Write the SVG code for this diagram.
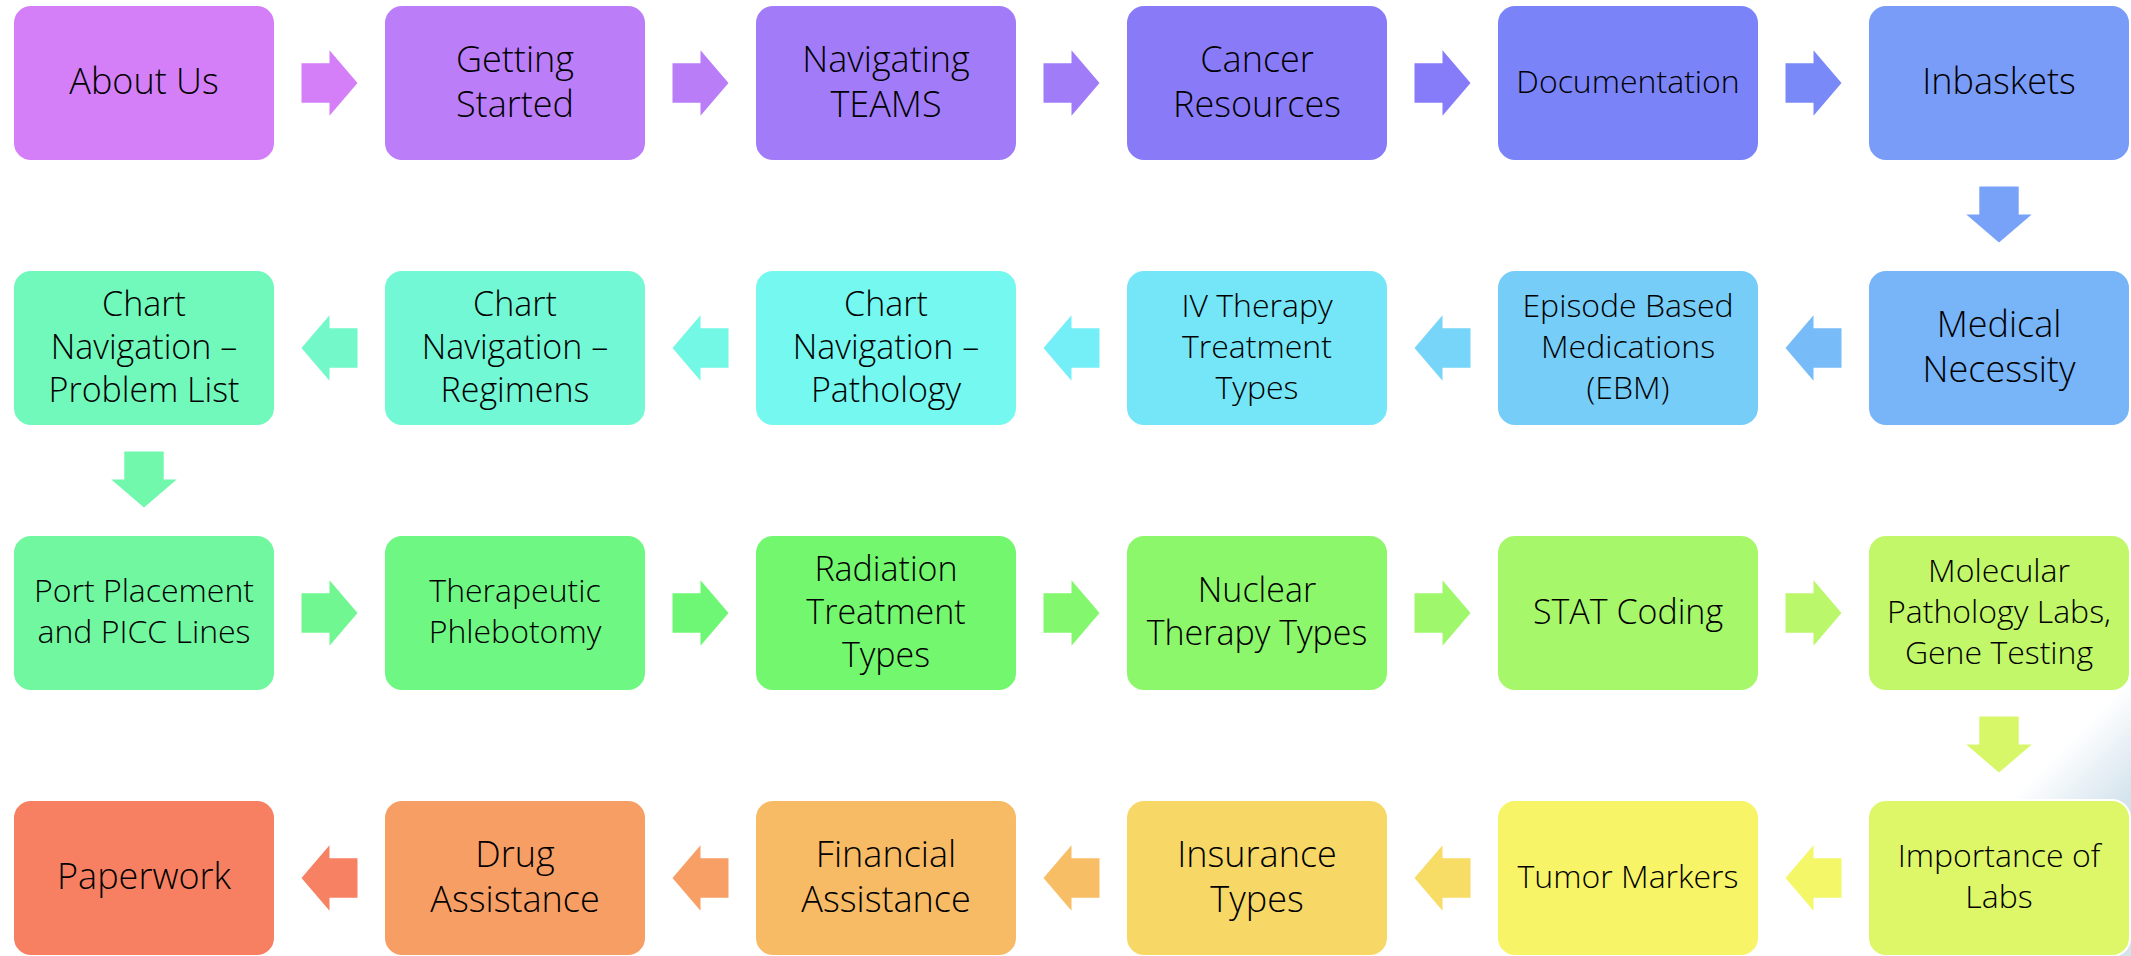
<svg xmlns="http://www.w3.org/2000/svg" width="2131" height="956" viewBox="0 0 2131 956">
  <defs>
    <!-- right-pointing block arrow centred on its head base -->
    <path id="arr" d="M-28,-19.7 H0 V-32.7 L28,0 L0,32.7 V19.7 H-28 Z"/>
    <linearGradient id="swoosh" gradientUnits="userSpaceOnUse" x1="2040" y1="770" x2="2098" y2="828">
      <stop offset="0" stop-color="#ffffff"/>
      <stop offset="0.5" stop-color="#e9f1f6"/>
      <stop offset="1" stop-color="#d4e4ed"/>
    </linearGradient>
    <style>
      .box { stroke: #ffffff; stroke-width: 2; }
      .lbl { font-family: "Open Sans", "Noto Sans", "DejaVu Sans", sans-serif; font-weight: 300; fill: #000000; text-anchor: middle; }
      .f36 { font-size: 36px; }
      .f34 { font-size: 34px; }
      .f32 { font-size: 32px; }
    </style>
  </defs>

  <rect x="0" y="0" width="2131" height="956" fill="#ffffff"/>
  <!-- soft background tint at lower right -->
  <rect x="1880" y="560" width="251" height="396" fill="url(#swoosh)"/>

  <!-- connectors -->
  <g id="connectors">
    <use href="#arr" transform="translate(329.5,83)" fill="hsl(282,90%,73.5%)"/>
    <use href="#arr" transform="translate(700.5,83)" fill="hsl(269.7,90%,73.2%)"/>
    <use href="#arr" transform="translate(1071.5,83)" fill="hsl(257.5,90%,73%)"/>
    <use href="#arr" transform="translate(1442.5,83)" fill="hsl(245.2,90%,72.7%)"/>
    <use href="#arr" transform="translate(1813.5,83)" fill="hsl(232.9,90%,72.5%)"/>
    <use href="#arr" transform="translate(1999,214.5) rotate(90)" fill="hsl(220.6,90%,72.2%)"/>
    <use href="#arr" transform="translate(1813.5,348) rotate(180)" fill="hsl(208.4,90%,71.9%)"/>
    <use href="#arr" transform="translate(1442.5,348) rotate(180)" fill="hsl(196.1,90%,71.7%)"/>
    <use href="#arr" transform="translate(1071.5,348) rotate(180)" fill="hsl(183.8,90%,71.4%)"/>
    <use href="#arr" transform="translate(700.5,348) rotate(180)" fill="hsl(171.5,90%,71.2%)"/>
    <use href="#arr" transform="translate(329.5,348) rotate(180)" fill="hsl(159.3,90%,70.9%)"/>
    <use href="#arr" transform="translate(144,479.5) rotate(90)" fill="hsl(147,90%,70.6%)"/>
    <use href="#arr" transform="translate(329.5,613)" fill="hsl(134.7,90%,70.4%)"/>
    <use href="#arr" transform="translate(700.5,613)" fill="hsl(122.5,90%,70.1%)"/>
    <use href="#arr" transform="translate(1071.5,613)" fill="hsl(110.2,90%,69.8%)"/>
    <use href="#arr" transform="translate(1442.5,613)" fill="hsl(97.9,90%,69.6%)"/>
    <use href="#arr" transform="translate(1813.5,613)" fill="hsl(85.6,90%,69.3%)"/>
    <use href="#arr" transform="translate(1999,744.5) rotate(90)" fill="hsl(73.4,90%,69.1%)"/>
    <use href="#arr" transform="translate(1813.5,878) rotate(180)" fill="hsl(61.1,90%,68.8%)"/>
    <use href="#arr" transform="translate(1442.5,878) rotate(180)" fill="hsl(48.8,90%,68.5%)"/>
    <use href="#arr" transform="translate(1071.5,878) rotate(180)" fill="hsl(36.5,90%,68.3%)"/>
    <use href="#arr" transform="translate(700.5,878) rotate(180)" fill="hsl(24.3,90%,68%)"/>
    <use href="#arr" transform="translate(329.5,878) rotate(180)" fill="hsl(12,90%,67.8%)"/>
  </g>

  <!-- row 1 -->
  <g id="about-us">
    <rect class="box" x="13" y="5" width="262" height="156" rx="18" fill="hsl(282,90%,73.5%)"/>
    <text class="lbl f36" x="144" y="94.4">About Us</text>
  </g>
  <g id="getting-started">
    <rect class="box" x="384" y="5" width="262" height="156" rx="18" fill="hsl(270.3,90%,73.25%)"/>
    <text class="lbl f36" x="515" y="71.9">Getting</text>
    <text class="lbl f36" x="515" y="116.9">Started</text>
  </g>
  <g id="navigating-teams">
    <rect class="box" x="755" y="5" width="262" height="156" rx="18" fill="hsl(258.5,90%,73%)"/>
    <text class="lbl f36" x="886" y="71.9">Navigating</text>
    <text class="lbl f36" x="886" y="116.9">TEAMS</text>
  </g>
  <g id="cancer-resources">
    <rect class="box" x="1126" y="5" width="262" height="156" rx="18" fill="hsl(246.8,90%,72.75%)"/>
    <text class="lbl f36" x="1257" y="71.9">Cancer</text>
    <text class="lbl f36" x="1257" y="116.9">Resources</text>
  </g>
  <g id="documentation">
    <rect class="box" x="1497" y="5" width="262" height="156" rx="18" fill="hsl(235,90%,72.5%)"/>
    <text class="lbl f32" x="1628" y="92.9">Documentation</text>
  </g>
  <g id="inbaskets">
    <rect class="box" x="1868" y="5" width="262" height="156" rx="18" fill="hsl(223.3,90%,72.25%)"/>
    <text class="lbl f36" x="1999" y="94.4">Inbaskets</text>
  </g>

  <!-- row 2 -->
  <g id="medical-necessity">
    <rect class="box" x="1868" y="270" width="262" height="156" rx="18" fill="hsl(211.6,90%,72%)"/>
    <text class="lbl f36" x="1999" y="336.9">Medical</text>
    <text class="lbl f36" x="1999" y="381.9">Necessity</text>
  </g>
  <g id="episode-based-medications">
    <rect class="box" x="1497" y="270" width="262" height="156" rx="18" fill="hsl(199.8,90%,71.75%)"/>
    <text class="lbl f32" x="1628" y="316.9">Episode Based</text>
    <text class="lbl f32" x="1628" y="357.9">Medications</text>
    <text class="lbl f32" x="1628" y="398.9">(EBM)</text>
  </g>
  <g id="iv-therapy">
    <rect class="box" x="1126" y="270" width="262" height="156" rx="18" fill="hsl(188.1,90%,71.5%)"/>
    <text class="lbl f32" x="1257" y="316.9">IV Therapy</text>
    <text class="lbl f32" x="1257" y="357.9">Treatment</text>
    <text class="lbl f32" x="1257" y="398.9">Types</text>
  </g>
  <g id="chart-pathology">
    <rect class="box" x="755" y="270" width="262" height="156" rx="18" fill="hsl(176.3,90%,71.25%)"/>
    <text class="lbl f34" x="886" y="315.6">Chart</text>
    <text class="lbl f34" x="886" y="358.6">Navigation –</text>
    <text class="lbl f34" x="886" y="401.6">Pathology</text>
  </g>
  <g id="chart-regimens">
    <rect class="box" x="384" y="270" width="262" height="156" rx="18" fill="hsl(164.6,90%,71%)"/>
    <text class="lbl f34" x="515" y="315.6">Chart</text>
    <text class="lbl f34" x="515" y="358.6">Navigation –</text>
    <text class="lbl f34" x="515" y="401.6">Regimens</text>
  </g>
  <g id="chart-problem-list">
    <rect class="box" x="13" y="270" width="262" height="156" rx="18" fill="hsl(152.9,90%,70.75%)"/>
    <text class="lbl f34" x="144" y="315.6">Chart</text>
    <text class="lbl f34" x="144" y="358.6">Navigation –</text>
    <text class="lbl f34" x="144" y="401.6">Problem List</text>
  </g>

  <!-- row 3 -->
  <g id="port-placement">
    <rect class="box" x="13" y="535" width="262" height="156" rx="18" fill="hsl(141.1,90%,70.5%)"/>
    <text class="lbl f32" x="144" y="602.4">Port Placement</text>
    <text class="lbl f32" x="144" y="643.4">and PICC Lines</text>
  </g>
  <g id="therapeutic-phlebotomy">
    <rect class="box" x="384" y="535" width="262" height="156" rx="18" fill="hsl(129.4,90%,70.25%)"/>
    <text class="lbl f32" x="515" y="602.4">Therapeutic</text>
    <text class="lbl f32" x="515" y="643.4">Phlebotomy</text>
  </g>
  <g id="radiation-treatment">
    <rect class="box" x="755" y="535" width="262" height="156" rx="18" fill="hsl(117.7,90%,70%)"/>
    <text class="lbl f34" x="886" y="580.6">Radiation</text>
    <text class="lbl f34" x="886" y="623.6">Treatment</text>
    <text class="lbl f34" x="886" y="666.6">Types</text>
  </g>
  <g id="nuclear-therapy">
    <rect class="box" x="1126" y="535" width="262" height="156" rx="18" fill="hsl(105.9,90%,69.75%)"/>
    <text class="lbl f34" x="1257" y="602.1">Nuclear</text>
    <text class="lbl f34" x="1257" y="645.1">Therapy Types</text>
  </g>
  <g id="stat-coding">
    <rect class="box" x="1497" y="535" width="262" height="156" rx="18" fill="hsl(94.2,90%,69.5%)"/>
    <text class="lbl f34" x="1628" y="623.6">STAT Coding</text>
  </g>
  <g id="molecular-pathology">
    <rect class="box" x="1868" y="535" width="262" height="156" rx="18" fill="hsl(82.4,90%,69.25%)"/>
    <text class="lbl f32" x="1999" y="581.9">Molecular</text>
    <text class="lbl f32" x="1999" y="622.9">Pathology Labs,</text>
    <text class="lbl f32" x="1999" y="663.9">Gene Testing</text>
  </g>

  <!-- row 4 -->
  <g id="importance-of-labs">
    <rect class="box" x="1868" y="800" width="262" height="156" rx="18" fill="hsl(70.7,90%,69%)"/>
    <text class="lbl f32" x="1999" y="867.4">Importance of</text>
    <text class="lbl f32" x="1999" y="908.4">Labs</text>
  </g>
  <g id="tumor-markers">
    <rect class="box" x="1497" y="800" width="262" height="156" rx="18" fill="hsl(58.9,90%,68.75%)"/>
    <text class="lbl f32" x="1628" y="887.9">Tumor Markers</text>
  </g>
  <g id="insurance-types">
    <rect class="box" x="1126" y="800" width="262" height="156" rx="18" fill="hsl(47.2,90%,68.5%)"/>
    <text class="lbl f36" x="1257" y="866.9">Insurance</text>
    <text class="lbl f36" x="1257" y="911.9">Types</text>
  </g>
  <g id="financial-assistance">
    <rect class="box" x="755" y="800" width="262" height="156" rx="18" fill="hsl(35.4,90%,68.25%)"/>
    <text class="lbl f36" x="886" y="866.9">Financial</text>
    <text class="lbl f36" x="886" y="911.9">Assistance</text>
  </g>
  <g id="drug-assistance">
    <rect class="box" x="384" y="800" width="262" height="156" rx="18" fill="hsl(23.7,90%,68%)"/>
    <text class="lbl f36" x="515" y="866.9">Drug</text>
    <text class="lbl f36" x="515" y="911.9">Assistance</text>
  </g>
  <g id="paperwork">
    <rect class="box" x="13" y="800" width="262" height="156" rx="18" fill="hsl(12,90%,67.75%)"/>
    <text class="lbl f36" x="144" y="889.4">Paperwork</text>
  </g>
</svg>
